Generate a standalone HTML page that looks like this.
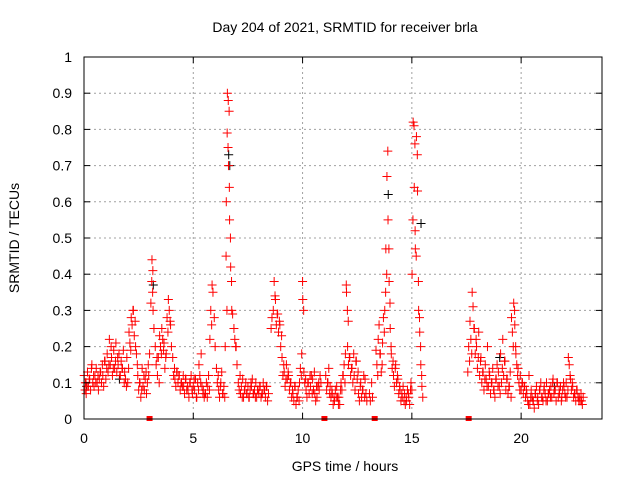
<!DOCTYPE html>
<html><head><meta charset="utf-8"><style>
html,body{margin:0;padding:0;background:#fff;}
svg{display:block;font-family:"Liberation Sans",sans-serif;}
</style></head><body>
<svg id="chart" width="640" height="480" viewBox="0 0 640 480">
<rect x="0" y="0" width="640" height="480" fill="#fff"/>
<g id="grid"></g>
<g id="black"></g>
<g id="red"></g>
<g id="gaps"></g>
<rect x="84" y="57" width="518" height="362" fill="none" stroke="#000" stroke-width="1"/>
<g id="axes"></g>
<text x="345" y="32" text-anchor="middle" font-size="14">Day 204 of 2021, SRMTID for receiver brla</text>
<text x="345" y="471" text-anchor="middle" font-size="14">GPS time / hours</text>
<text x="19" y="238" text-anchor="middle" font-size="14" transform="rotate(-90 19 238)">SRMTID / TECUs</text>
</svg>
<script>
const xTicks=[0,5,10,15,20];
const yTicks=[0,0.1,0.2,0.3,0.4,0.5,0.6,0.7,0.8,0.9,1];
const yTickLabels=["0","0.1","0.2","0.3","0.4","0.5","0.6","0.7","0.8","0.9","1"];
const redTimes=[0.05,0.1,0.2,0.3,0.4,0.5,0.6,0.7,0.8,0.9,1.0,1.1,1.2,1.3,1.4,1.5,1.6,1.7,1.8,1.9,2.0,2.1,2.2,2.3,2.4,2.5,2.6,2.7,2.8,2.9,3.0,3.1,3.15,3.2,3.3,3.4,3.5,3.6,3.7,3.8,3.9,4.0,4.1,4.2,4.3,4.4,4.5,4.6,4.7,4.8,4.9,5.0,5.1,5.2,5.3,5.4,5.5,5.6,5.7,5.8,5.9,6.0,6.1,6.2,6.3,6.4,6.5,6.55,6.6,6.65,6.7,6.75,6.8,6.9,7.0,7.1,7.2,7.3,7.4,7.5,7.6,7.7,7.8,7.9,8.0,8.1,8.2,8.3,8.4,8.6,8.7,8.8,8.9,9.0,9.1,9.2,9.3,9.4,9.5,9.6,9.7,9.8,9.9,10.0,10.05,10.1,10.2,10.3,10.4,10.5,10.6,10.7,10.8,11.1,11.2,11.3,11.4,11.5,11.6,11.7,11.8,11.9,12.0,12.05,12.1,12.2,12.3,12.4,12.5,12.6,12.7,12.8,12.9,13.1,13.2,13.4,13.5,13.6,13.7,13.8,13.85,13.9,13.95,14.0,14.05,14.1,14.2,14.3,14.4,14.5,14.6,14.7,14.8,14.9,15.0,15.05,15.1,15.15,15.2,15.25,15.3,15.35,15.4,15.45,15.5,17.6,17.7,17.8,17.9,18.0,18.1,18.2,18.3,18.4,18.5,18.6,18.7,18.8,18.9,19.0,19.1,19.2,19.3,19.4,19.5,19.6,19.7,19.75,19.8,19.9,20.0,20.1,20.2,20.3,20.4,20.5,20.6,20.7,20.8,20.9,21.0,21.1,21.2,21.3,21.4,21.5,21.6,21.7,21.8,21.9,22.0,22.1,22.2,22.3,22.4,22.5,22.6,22.7,22.8];
const redValues=[[0.12,0.08,0.1],[0.10,0.07,0.09],[0.13,0.09,0.11],[0.11,0.08,0.14],[0.15,0.10,0.12],[0.09,0.12,0.1],[0.14,0.10,0.12],[0.08,0.11,0.13],[0.13,0.10,0.15],[0.12,0.09,0.16],[0.16,0.11,0.14],[0.18,0.13,0.15],[0.22,0.15,0.2],[0.17,0.12,0.14],[0.19,0.14,0.16],[0.21,0.13,0.17],[0.15,0.18,0.12],[0.12,0.16,0.14],[0.14,0.19,0.1],[0.13,0.11,0.09],[0.17,0.10,0.14],[0.24,0.21,0.19],[0.28,0.26,0.3],[0.30,0.23,0.27],[0.20,0.18,0.15],[0.12,0.08,0.1],[0.10,0.06,0.08],[0.14,0.09,0.12],[0.08,0.11,0.13],[0.07,0.10,0.15],[0.12,0.18],[0.32,0.38,0.35],[0.44,0.41],[0.30,0.25],[0.20,0.15,0.17],[0.12,0.17,0.1],[0.23,0.20,0.18],[0.25,0.22,0.19],[0.21,0.14,0.17],[0.18,0.28,0.24],[0.33,0.30,0.27],[0.26,0.20],[0.17,0.12,0.14],[0.11,0.09,0.13],[0.13,0.10,0.12],[0.12,0.08,0.1],[0.10,0.09,0.12],[0.09,0.07,0.11],[0.11,0.08,0.09],[0.08,0.06,0.1],[0.10,0.12,0.08],[0.07,0.09,0.11],[0.08,0.11,0.06],[0.06,0.10,0.08],[0.15,0.12,0.1],[0.18,0.09,0.07],[0.08,0.06,0.07],[0.07,0.10,0.06],[0.09,0.12,0.08],[0.22,0.30,0.26],[0.37,0.35],[0.28,0.20],[0.14,0.10,0.12],[0.08,0.06,0.09],[0.10,0.13,0.07],[0.07,0.09,0.06],[0.20,0.45,0.3],[0.60,0.79,0.75],[0.90,0.88,0.85],[0.70,0.64],[0.55,0.50],[0.42,0.38],[0.30,0.29],[0.25,0.22,0.2],[0.20,0.15],[0.10,0.08,0.12],[0.07,0.09,0.06],[0.11,0.06,0.08],[0.08,0.10,0.07],[0.07,0.09,0.06],[0.06,0.08,0.1],[0.09,0.11,0.07],[0.07,0.08,0.06],[0.10,0.06,0.08],[0.08,0.07,0.09],[0.09,0.06,0.07],[0.07,0.10,0.08],[0.08,0.06,0.09],[0.09,0.05,0.07],[0.25,0.28],[0.30,0.38,0.34],[0.33,0.26,0.29],[0.29,0.24,0.27],[0.26,0.20,0.23],[0.17,0.12,0.15],[0.13,0.09,0.11],[0.15,0.11,0.13],[0.12,0.08,0.1],[0.10,0.06,0.08],[0.07,0.05,0.09],[0.09,0.04,0.06],[0.06,0.08,0.05],[0.10,0.14,0.12],[0.18,0.38],[0.33,0.30],[0.13,0.10,0.11],[0.08,0.06,0.1],[0.10,0.07,0.12],[0.09,0.12,0.07],[0.11,0.08,0.13],[0.07,0.05,0.09],[0.06,0.09,0.1],[0.08,0.12,0.1],[0.12,0.08,0.1],[0.10,0.14,0.07],[0.09,0.06,0.08],[0.07,0.04,0.06],[0.05,0.08,0.06],[0.09,0.06,0.04],[0.06,0.04,0.08],[0.10,0.08,0.12],[0.12,0.15,0.1],[0.18,0.37],[0.35,0.30,0.27],[0.20,0.15,0.17],[0.17,0.12,0.14],[0.14,0.10,0.18],[0.12,0.08,0.16],[0.16,0.11,0.13],[0.07,0.05,0.09],[0.10,0.06,0.08],[0.08,0.12,0.06],[0.11,0.07,0.05],[0.07,0.05],[0.10,0.06],[0.19,0.15,0.12],[0.22,0.26,0.18],[0.18,0.13,0.15],[0.21,0.28,0.24],[0.30,0.35],[0.47,0.40],[0.67,0.74],[0.55,0.47],[0.38,0.32],[0.25,0.20],[0.18,0.14,0.16],[0.12,0.09,0.14],[0.15,0.10,0.12],[0.11,0.07,0.09],[0.08,0.05,0.07],[0.06,0.09,0.05],[0.07,0.04,0.06],[0.05,0.08,0.07],[0.06,0.04,0.08],[0.10,0.08],[0.40,0.55],[0.82,0.81,0.76],[0.64,0.52],[0.47,0.45],[0.78,0.73],[0.63,0.38],[0.30,0.28],[0.24,0.20],[0.15,0.12],[0.09,0.06],[0.13,0.20,0.16],[0.27,0.22,0.18],[0.35,0.31,0.25],[0.25,0.18,0.22],[0.20,0.14,0.17],[0.24,0.12,0.16],[0.17,0.10,0.13],[0.13,0.08,0.11],[0.15,0.11,0.09],[0.20,0.09,0.13],[0.12,0.07,0.1],[0.10,0.14,0.08],[0.08,0.06,0.11],[0.11,0.15,0.09],[0.13,0.09,0.07],[0.18,0.10,0.14],[0.22,0.12,0.16],[0.16,0.08,0.11],[0.11,0.07,0.09],[0.09,0.13,0.06],[0.28,0.24,0.2],[0.32,0.30],[0.26,0.20],[0.18,0.15,0.12],[0.14,0.10,0.08],[0.12,0.08,0.1],[0.10,0.07,0.09],[0.09,0.06,0.08],[0.07,0.05,0.04],[0.12,0.04,0.06],[0.08,0.06,0.05],[0.05,0.03,0.07],[0.07,0.09,0.05],[0.06,0.04,0.08],[0.08,0.10,0.06],[0.06,0.05,0.08],[0.09,0.07,0.05],[0.10,0.05,0.07],[0.07,0.08,0.06],[0.09,0.06,0.1],[0.11,0.07,0.08],[0.08,0.05,0.1],[0.10,0.06,0.08],[0.07,0.09,0.05],[0.06,0.08,0.1],[0.09,0.07,0.06],[0.10,0.06,0.08],[0.17,0.15,0.12],[0.11,0.08,0.1],[0.09,0.06,0.07],[0.07,0.05,0.08],[0.08,0.06,0.05],[0.06,0.05,0.07],[0.05,0.04,0.06]];
const blackTimes=[0.1,1.6,3.15,6.6,6.65,13.9,15.4,19.0,21.5];
const blackValues=[[0.09],[0.11],[0.37],[0.73],[0.70],[0.62],[0.54],[0.17],[0.09]];
const gapTimes=[3.0,11.0,13.3,17.6];

const X0=84,X1=602,Y0=419,Y1=57,XMAX=23.7;
const NS="http://www.w3.org/2000/svg";
function sx(t){return X0+(X1-X0)*t/XMAX;}
function sy(v){return Y0-(Y0-Y1)*v;}
function mk(tag,attrs){const e=document.createElementNS(NS,tag);for(const k in attrs)e.setAttribute(k,attrs[k]);return e;}

const grid=document.getElementById('grid'),axes=document.getElementById('axes');
yTicks.forEach((v,i)=>{
  const y=sy(v);
  if(v>0&&v<1){const g=mk('line',{x1:X0,x2:X1,y1:y,y2:y,stroke:'#a0a0a0','stroke-dasharray':'2,3'});
  
  
  grid.appendChild(g);}
  const t1=mk('line',{x1:X0,x2:X0+6,y1:y,y2:y,stroke:'#000'});
  
  
  axes.appendChild(t1);
  const t2=mk('line',{x1:X1-6,x2:X1,y1:y,y2:y,stroke:'#000'});
  
  
  axes.appendChild(t2);
  const l=mk('text',{x:X0-12,y:y+5,'text-anchor':'end','font-size':'14'});
  l.textContent=yTickLabels[i];
  
  
  axes.appendChild(l);
});
xTicks.forEach(t=>{
  const x=sx(t);
  if(t>0){const g=mk('line',{x1:x,x2:x,y1:Y0,y2:Y1,stroke:'#a0a0a0','stroke-dasharray':'2,3'});
  
  
  grid.appendChild(g);}
  const t1=mk('line',{x1:x,x2:x,y1:Y0,y2:Y0-6,stroke:'#000'});
  
  
  axes.appendChild(t1);
  const t2=mk('line',{x1:x,x2:x,y1:Y1,y2:Y1+6,stroke:'#000'});
  
  
  axes.appendChild(t2);
  const l=mk('text',{x:x,y:Y0+24,'text-anchor':'middle','font-size':'14'});
  l.textContent=String(t);
  
  
  axes.appendChild(l);
});
function plus(g,t,v,color){
  const x=sx(t),y=sy(v);
  const p=mk('path',{d:`M${x-4.5},${y}H${x+4.5}M${x},${y-4.5}V${y+4.5}`,stroke:color,'stroke-width':'1',fill:'none'});
  
  
  g.appendChild(p);
}
const bg=document.getElementById('black');
blackTimes.forEach((t,i)=>blackValues[i].forEach(v=>plus(bg,t+0.02,v,'#000')));
const rg=document.getElementById('red');
redTimes.forEach((t,i)=>redValues[i].forEach((v,j)=>plus(rg,t+(j-1)*0.04,v,'#ff0000')));
const gg=document.getElementById('gaps');
gapTimes.forEach(t=>{
  const r=mk('rect',{x:sx(t)-3,y:Y0-3,width:6,height:5,fill:'#ff0000'});
  
  
  gg.appendChild(r);
});
</script>
</body></html>
